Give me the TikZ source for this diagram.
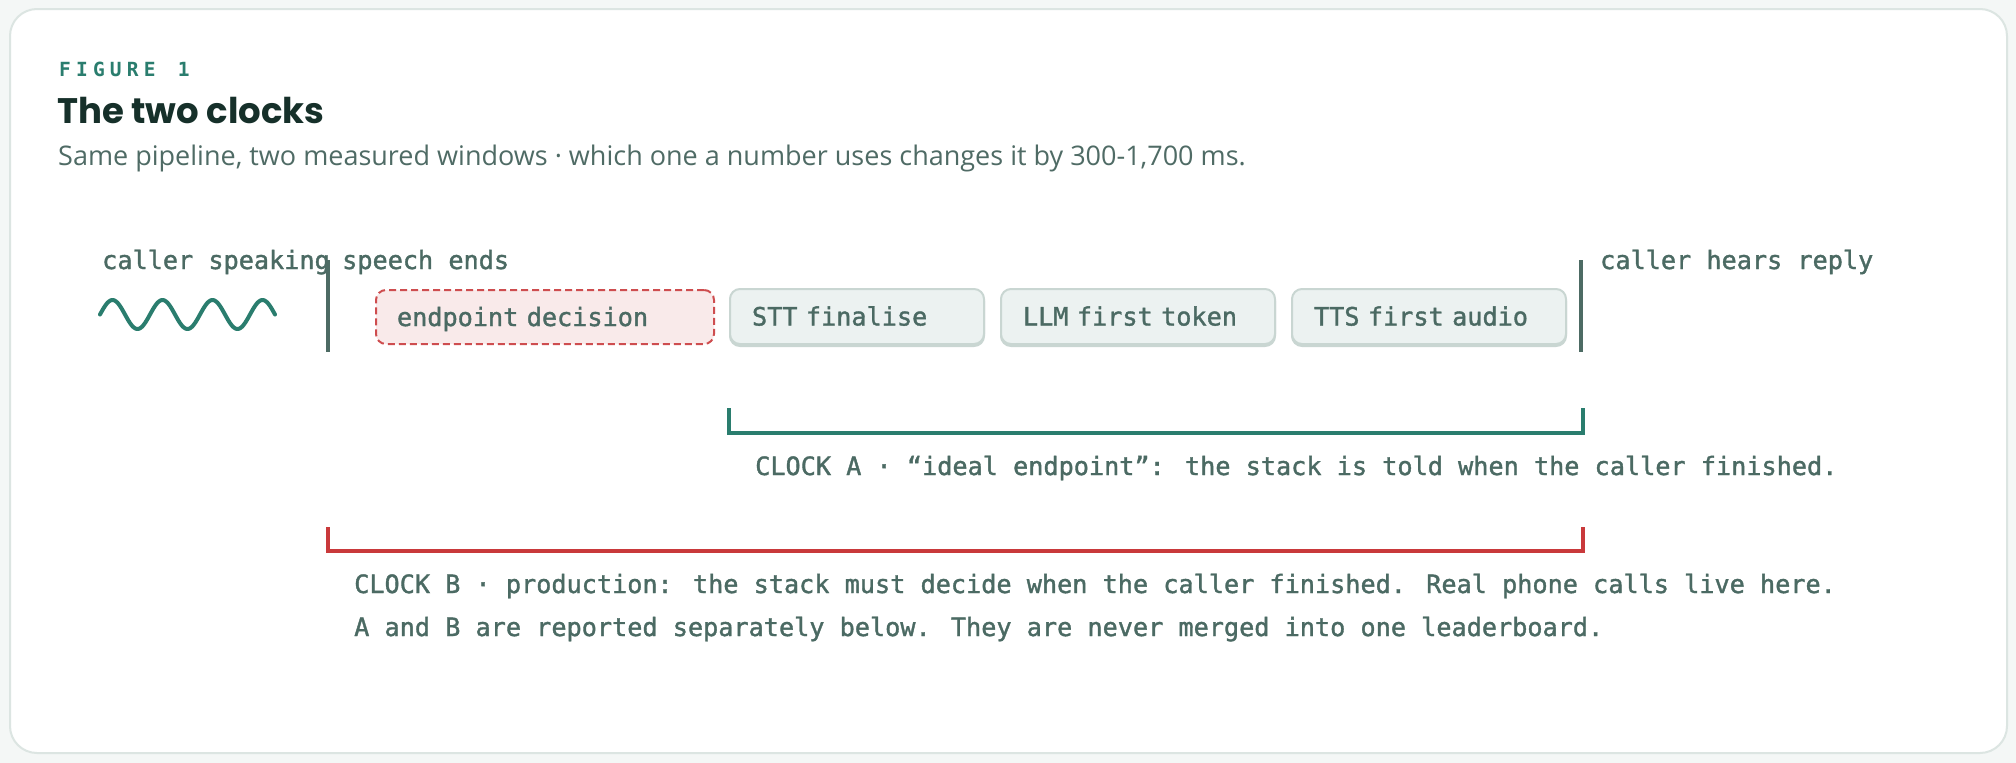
\documentclass[tikz,border=0pt]{standalone}
\usepackage{fontspec}
\setmainfont{Open Sans}
\newfontfamily\titlefont{Poppins}
\newfontfamily\subfont{Open Sans}
\newfontfamily\monofont{DejaVu Sans Mono}[FakeBold=1.4]
\newfontfamily\monoboldfont{DejaVu Sans Mono Bold}
\definecolor{bgc}{HTML}{F4F7F6}
\definecolor{cardline}{HTML}{DCE5E2}
\definecolor{ink}{HTML}{4B6A63}
\definecolor{tealc}{HTML}{2A7D6E}
\definecolor{redc}{HTML}{C9393B}
\definecolor{titlec}{HTML}{16302A}
\definecolor{subc}{HTML}{4F6B65}
\definecolor{boxfill}{HTML}{ECF2F1}
\definecolor{boxline}{HTML}{C9D6D2}
\definecolor{redfill}{HTML}{F9EAEA}
\definecolor{markc}{HTML}{4D6B64}
\tikzset{
  lbl/.style={font=\monofont\fontsize{25.2}{30}\selectfont, text=ink, inner sep=0pt, anchor=base west},
  stagebox/.style={draw=boxline, line width=2pt, fill=boxfill, rounded corners=10pt,
    minimum height=55pt, inner xsep=22pt, inner ysep=0pt, text height=18pt, text depth=0pt,
    font=\monofont\fontsize{25.2}{30}\selectfont, text=ink, anchor=west, align=left,
    preaction={draw=boxline, fill=boxline, rounded corners=10pt, line width=2pt, transform canvas={yshift=-2pt}}},
  redbox/.style={draw=redc!90, line width=2pt, dash pattern=on 7pt off 4pt, fill=redfill, rounded corners=10pt,
    minimum height=54pt, inner xsep=21pt, inner ysep=0pt, text height=18pt, text depth=0pt,
    font=\monofont\fontsize{25.2}{30}\selectfont, text=ink, anchor=west, align=left},
  marker/.style={draw=markc, line width=4pt},
  bracketA/.style={draw=tealc, line width=3.5pt},
  bracketB/.style={draw=redc, line width=3.5pt},
}
\begin{document}
\begin{tikzpicture}[x=1pt,y=-1pt]
\useasboundingbox (0,0) rectangle (2016,763);
\fill[bgc] (0,0) rectangle (2016,763);
\draw[cardline, line width=2pt, fill=white, rounded corners=27pt] (10,9) rectangle (2007,753);

% header
\node[inner sep=0pt, anchor=base west, text=tealc, font=\monoboldfont\fontsize{19.5}{22}\selectfont] (fig) at (59,76)
  {F\kern5.2pt I\kern5.2pt G\kern5.2pt U\kern5.2pt R\kern5.2pt E\kern5.2pt\ \kern5.2pt 1};
\node[inner sep=0pt, anchor=base west, text=titlec, font=\titlefont\bfseries\fontsize{35.5}{40}\selectfont] (title) at (57,123) {The two clocks};
\node[inner sep=0pt, anchor=base west, text=subc, font=\subfont\fontsize{27}{30}\selectfont] (sub) at (58,165)
  {Same pipeline, two measured windows · which one a number uses changes it by 300-1,700 ms.};

% timeline labels
\node[lbl] (speaking) at (102,269) {caller speaking};
\node[lbl] (ends) at (342,269) {speech ends};
\node[lbl] (hears) at (1600,269) {caller hears reply};

% wave
\draw[tealc, line width=4pt, line cap=round] plot[domain=0:175, samples=120, smooth] ({\x+100}, {314.5 - 14.5*sin(\x*7.2)});

% markers
\coordinate (m1top) at (328,260);
\coordinate (m1bot) at (328,352);
\coordinate (m2top) at (1581,260);
\coordinate (m2bot) at (1581,352);
\draw[marker] (m1top) -- (m1bot);
\draw[marker] (m2top) -- (m2bot);

% stages
\node[redbox, minimum width=338pt, text width=296pt] (endp) at (375,317) {endpoint decision};
\node[stagebox, minimum width=254pt, text width=210pt] (stt) at (729,316.5) {STT finalise};
\node[stagebox, minimum width=274pt, text width=230pt] (llm) at (1000,316.5) {LLM first token};
\node[stagebox, minimum width=274pt, text width=230pt] (tts) at (1291,316.5) {TTS first audio};

% clock A
\coordinate (aL) at (729,408);
\coordinate (aR) at (1583,408);
\draw[bracketA] (aL) -- (729,433) -- (1583,433) -- (aR);
\node[lbl] (clockA) at (755,475) {CLOCK A · “ideal endpoint”: the stack is told when the caller finished.};

% clock B
\coordinate (bL) at (328,527);
\coordinate (bR) at (1583,527);
\draw[bracketB] (bL) -- (328,551) -- (1583,551) -- (bR);
\node[lbl] (clockB) at (354,593) {CLOCK B · production: the stack must decide when the caller finished. Real phone calls live here.};
\node[lbl] (note) at (354,636) {A and B are reported separately below. They are never merged into one leaderboard.};
\end{tikzpicture}
\end{document}
